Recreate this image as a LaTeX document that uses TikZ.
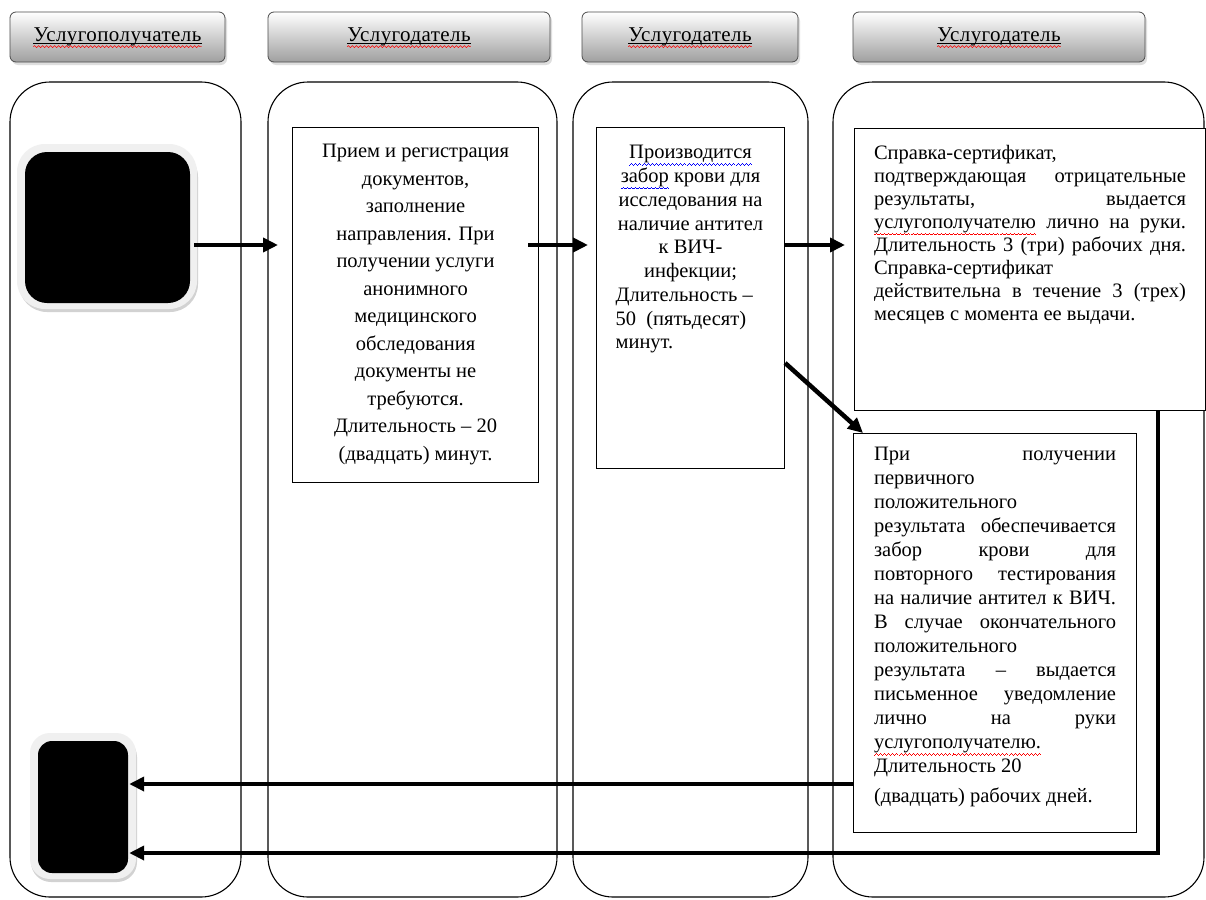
\documentclass[tikz,border=0pt]{standalone}
\usepackage{fontspec}
\setmainfont{Liberation Serif}
\usetikzlibrary{arrows.meta,shadows,fit,decorations.pathmorphing}
\newcommand\waveunit{\rule[-6.4pt]{1pt}{0.8pt}\rule[-5.7pt]{1pt}{0.8pt}\rule[-5.0pt]{1pt}{0.8pt}\rule[-5.7pt]{1pt}{0.8pt}}
\newcommand\wavemark[2]{\leavevmode\setbox0\hbox{#2}\rlap{\textcolor{#1}{\hbox to \wd0{\xleaders\hbox{\waveunit}\hfill}}}\box0\relax}
\newcommand\redwave[1]{\wavemark{red}{#1}}
\newcommand\bluewave[1]{\wavemark{blue}{#1}}
\newcommand\jusline[1]{\makebox[\linewidth][s]{#1}}
\newcommand\ctrline[1]{\makebox[\linewidth][c]{#1}}
\newcommand\bodyfont[1]{\fontsize{20.5}{#1}\selectfont}
\tikzset{
  lane/.style={draw, line width=1.1pt, rounded corners=40pt, inner sep=0pt},
  hdr/.style={draw=gray!60!black, line width=0.8pt, rounded corners=6pt, top color=white, bottom color=gray!75, drop shadow={shadow xshift=2pt, shadow yshift=-3pt, fill=gray!50}, inner sep=0pt},
  hdrtext/.style={inner sep=0pt, font=\fontsize{21}{24}\selectfont\addfontfeature{LetterSpace=2}},
  uline/.style={line width=0.7pt},
  wave/.style={red, line width=0.6pt, decorate, decoration={snake, amplitude=1pt, segment length=4pt}},
  tbox/.style={draw, line width=1.1pt, inner ysep=0pt, fill=white, anchor=north west},
  blk/.style={fill=black, inner sep=0pt},
  glow/.style={fill=gray!12},
  glowdark/.style={fill=gray!35},
  arr/.style={line width=4.5pt, -{Triangle[length=15pt,width=14pt]}},
}
\begin{document}
\begin{tikzpicture}[x=1pt,y=-1pt]
\fill[white] (0,0) rectangle (1206,899);
\useasboundingbox (0,0) rectangle (1206,899);

% lanes
\node[lane, fit={(10,82) (241,897)}] (L1) {};
\node[lane, fit={(268,82) (557,897)}] (L2) {};
\node[lane, fit={(573,82) (808,897)}] (L3) {};
\node[lane, fit={(833,82) (1204,897)}] (L4) {};

% headers
\node[hdr, fit={(10,12) (225,62)}] (h1) {};
\node[hdr, fit={(268,12) (550,62)}] (h2) {};
\node[hdr, fit={(582,12) (798,62)}] (h3) {};
\node[hdr, fit={(853,12) (1145,62)}] (h4) {};
\node[hdrtext] (h1t) at (h1) {Услугополучатель};
\node[hdrtext] (h2t) at (h2) {Услугодатель};
\node[hdrtext] (h3t) at (h3) {Услугодатель};
\node[hdrtext] (h4t) at (h4) {Услугодатель};
\foreach \t in {h1t,h2t,h3t,h4t}{
  \draw[uline] ([yshift=-2pt]\t.base west) -- ([yshift=-2pt]\t.base east);
  \draw[wave] ([yshift=-5pt]\t.base west) -- ([yshift=-5pt]\t.base east);
}

% black boxes with glow
\fill[glowdark, rounded corners=28pt] (19,149) rectangle (198,312);
\fill[glow, rounded corners=28pt] (17,144) rectangle (197,309);
\node[blk, rounded corners=22pt, fit={(25,152) (190,303)}] (bb1) {};
\fill[glowdark, rounded corners=20pt] (31,737) rectangle (137,882);
\fill[glow, rounded corners=20pt] (30,733) rectangle (136,879);
\node[blk, rounded corners=14pt, fit={(38,741) (128,873)}] (bb2) {};

% text boxes
\node[tbox, inner xsep=8pt] (b2) at (292,127) {\parbox[c][355pt][t]{230pt}{\bodyfont{27.5}\centering\vspace*{17pt}Прием и регистрация\\документов,\\заполнение\\направления. При\\получении услуги\\анонимного\\медицинского\\обследования\\документы не\\требуются.\\Длительность – 20\\(двадцать) минут.}};

\node[tbox, inner xsep=16pt] (b3) at (596,127) {\parbox[c][341pt][t]{156pt}{\bodyfont{23.75}\raggedright\vspace*{18pt}\ctrline{\bluewave{Производится}}\\\ctrline{\bluewave{забор} крови для}\\\ctrline{исследования на}\\\ctrline{наличие антител}\\\ctrline{к ВИЧ-}\\\ctrline{инфекции;}\\\hspace*{3pt}Длительность –\\\hspace*{3pt}50\ \ (пятьдесят)\\\hspace*{3pt}минут.}};

\node[tbox, inner xsep=19.5pt] (b4) at (854,128) {\parbox[c][282pt][t]{312pt}{\bodyfont{23}\raggedright\vspace*{17pt}Справка-сертификат,\\\jusline{подтверждающая отрицательные}\\\jusline{результаты, выдается}\\\jusline{\redwave{услугополучателю} лично на руки.}\\\jusline{Длительность 3 (три) рабочих дня.}\\Справка-сертификат\\\jusline{действительна в течение 3 (трех)}\\месяцев с момента ее выдачи.}};

\node[tbox, inner xsep=20.5pt] (b5) at (853,433) {\parbox[c][399pt][t]{242pt}{\bodyfont{24}\raggedright\vspace*{14pt}\jusline{При получении}\\первичного\\положительного\\\jusline{результата обеспечивается}\\\jusline{забор крови для}\\\jusline{повторного тестирования}\\\jusline{на наличие антител к ВИЧ.}\\\jusline{В случае окончательного}\\положительного\\\jusline{результата – выдается}\\\jusline{письменное уведомление}\\\jusline{лично на руки}\\\redwave{услугополучателю.}\\Длительность 20\\[6pt](двадцать) рабочих дней.}};

% connectors
\coordinate (row) at (0,245);
\coordinate (dg) at (0,363);
\coordinate (ret1) at (0,784);
\coordinate (ret2) at (1158,853);
\draw[arr, shorten <=4pt, shorten >=14pt] (bb1.east |- row) -- (b2.west |- row);
\draw[arr, shorten <=-11pt, shorten >=8pt] (b2.east |- row) -- (b3.west |- row);
\draw[arr, shorten >=9pt] (b3.east |- row) -- (b4.west |- row);
\draw[arr] (b3.east |- dg) -- ([xshift=10pt]b5.north west);
\draw[arr, shorten >=1pt] (b5.west |- ret1) -- (bb2.east |- ret1);
\draw[arr, shorten >=1pt] (b4.south -| ret2) -- (ret2) -- (bb2.east |- ret2);
\end{tikzpicture}
\end{document}
